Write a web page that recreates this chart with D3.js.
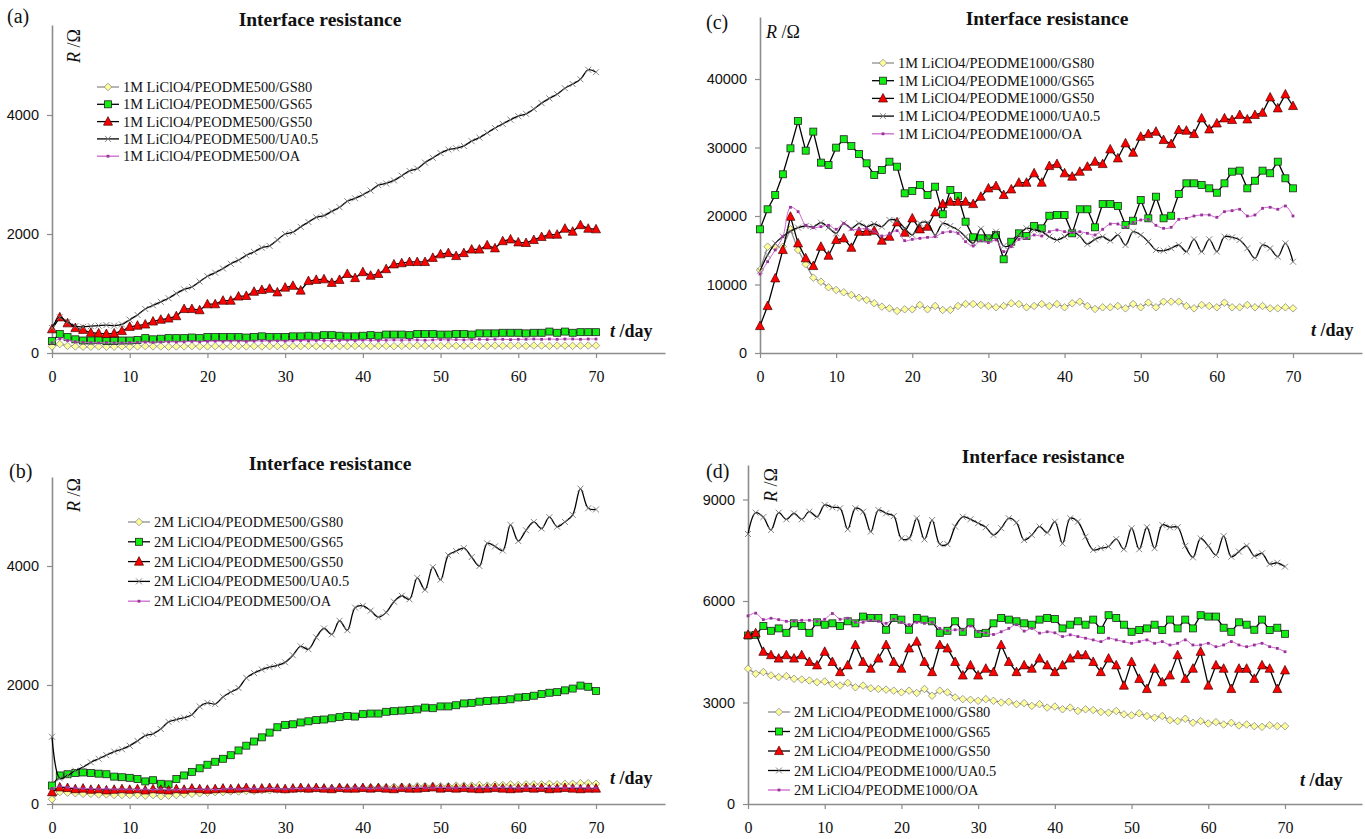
<!DOCTYPE html>
<html>
<head>
<meta charset="utf-8">
<script src="https://cdn.jsdelivr.net/npm/d3@7"></script>
<style>
  body { margin: 0; background: #fff; }
  svg text { font-family: "Liberation Serif", "Times New Roman", serif; }
</style>
</head>
<body>
<svg id="chart" width="1365" height="839"></svg>
<script>
// days 0..70, one reading per day
var days = d3.range(0, 71);
var xTicks = [0, 10, 20, 30, 40, 50, 60, 70];

var namesA = ["1M LiClO4/PEODME500/GS80", "1M LiClO4/PEODME500/GS65", "1M LiClO4/PEODME500/GS50", "1M LiClO4/PEODME500/UA0.5", "1M LiClO4/PEODME500/OA"];
var namesB = ["2M LiClO4/PEODME500/GS80", "2M LiClO4/PEODME500/GS65", "2M LiClO4/PEODME500/GS50", "2M LiClO4/PEODME500/UA0.5", "2M LiClO4/PEODME500/OA"];
var namesC = ["1M LiClO4/PEODME1000/GS80", "1M LiClO4/PEODME1000/GS65", "1M LiClO4/PEODME1000/GS50", "1M LiClO4/PEODME1000/UA0.5", "1M LiClO4/PEODME1000/OA"];
var namesD = ["2M LiClO4/PEODME1000/GS80", "2M LiClO4/PEODME1000/GS65", "2M LiClO4/PEODME1000/GS50", "2M LiClO4/PEODME1000/UA0.5", "2M LiClO4/PEODME1000/OA"];

// (a) 1M / PEODME500
var a_GS80 = [110,150,120,110,105,105,110,105,105,110, 105,110,115,110,110,105,110,110,115,110, 110,115,110,110,115,110,115,110,115,115, 110,115,115,120,115,115,120,115,115,120, 120,115,120,120,115,120,120,125,120,120, 120,125,120,120,125,120,120,125,120,125, 125,120,125,125,120,125,125,120,125,125, 125];
var a_GS65 = [200,320,270,230,210,210,220,200,200,210, 210,220,250,230,240,250,250,250,260,250, 270,270,270,270,270,260,270,280,270,270, 270,280,280,290,280,300,300,290,280,280, 290,300,290,310,310,310,300,320,320,320, 310,310,320,320,310,330,330,330,340,340, 340,330,340,340,360,340,360,340,350,350, 350];
var a_GS50 = [400,600,500,420,390,340,330,320,330,370, 440,460,480,530,560,580,620,740,740,720, 820,820,880,880,950,960,1030,1060,1080,1020, 1100,1130,1050,1210,1230,1240,1180,1230,1330,1260, 1360,1300,1330,1410,1490,1510,1530,1530,1530,1600, 1660,1680,1630,1680,1740,1740,1810,1760,1880,1910, 1860,1850,1900,1950,1990,1990,2090,2040,2150,2090, 2080];
var a_UA = [420,600,520,450,440,450,460,470,460,480, 560,640,740,800,860,920,1000,1070,1110,1200, 1290,1350,1420,1500,1560,1640,1700,1770,1800,1900, 2000,2030,2120,2200,2280,2310,2380,2450,2550,2600, 2660,2730,2820,2850,2900,2980,3060,3100,3200,3280, 3360,3420,3440,3480,3560,3620,3700,3780,3850,3920, 3980,4020,4100,4200,4280,4350,4450,4520,4600,4760, 4720];
var a_OA = [170,240,210,190,180,175,170,175,170,170, 175,180,185,180,185,190,185,190,195,190, 195,200,195,200,200,195,200,205,200,205, 200,205,210,205,210,210,205,210,215,210, 215,215,210,215,220,215,220,220,215,220, 225,220,225,220,225,230,225,230,230,225, 230,230,235,230,235,230,235,235,230,235, 235];

// (b) 2M / PEODME500
var b_GS80 = [80,200,190,180,170,170,160,160,150,150, 150,150,140,150,130,140,150,160,170,180, 190,200,200,210,210,220,220,230,230,240, 240,250,250,250,260,260,260,270,270,270, 270,280,280,280,290,290,290,300,300,300, 300,300,310,310,310,320,310,320,320,330, 320,330,330,330,340,330,340,340,350,350, 340];
var b_GS65 = [310,480,500,520,530,520,510,500,460,450, 440,420,380,400,340,330,420,480,540,600, 660,710,760,820,900,980,1050,1120,1200,1290, 1330,1340,1370,1390,1410,1420,1440,1460,1480,1470, 1510,1520,1520,1550,1560,1570,1580,1590,1620,1610, 1640,1640,1660,1690,1700,1720,1730,1740,1750,1760, 1790,1800,1820,1850,1870,1880,1910,1940,1990,1970, 1900];
var b_GS50 = [200,280,270,250,260,240,250,230,240,250, 240,250,230,250,240,230,250,240,260,250, 240,250,260,250,260,270,250,260,270,260, 250,260,270,260,270,260,250,270,260,260, 270,260,270,260,250,270,260,260,270,280, 260,270,260,270,260,250,260,270,260,250, 260,270,260,270,250,260,270,260,250,260, 260];
var b_UA = [1130,430,480,560,620,700,760,820,880,920, 980,1060,1150,1180,1260,1380,1420,1450,1500,1640, 1700,1680,1800,1880,1950,2120,2200,2260,2300,2330, 2380,2500,2650,2600,2800,2950,2850,3080,2920,3300, 3330,3250,3140,3220,3400,3500,3440,3800,3600,3980, 3770,4180,4250,4300,4150,4000,4380,4330,4260,4690, 4420,4600,4740,4630,4820,4660,4740,4860,5300,4970, 4950];
var b_OA = [260,300,280,270,260,260,250,260,250,250, 250,240,250,240,250,240,240,250,240,250, 250,240,250,260,250,250,260,250,260,260, 250,260,260,270,260,260,270,260,260,270, 270,260,270,270,260,270,270,280,270,270, 280,270,270,280,270,280,280,270,280,280, 270,280,280,270,280,280,270,280,280,270, 270];

// (c) 1M / PEODME1000
var c_GS80 = [12120,15520,15430,15520,18060,15040,12950,10990,10410,9590, 9200,8860,8470,8070,7740,7260,6760,6520,6130,6380, 6380,7010,6380,6860,6280,6280,6860,7150,7150,7010, 6860,6670,6860,7250,7150,6670,6860,7150,6860,7150, 6670,7250,7490,6860,6420,6670,6670,6860,6520,7150, 6670,7350,6670,7490,7490,7490,6860,6520,7010,6860, 6670,7350,6670,6670,7010,6670,6860,6520,6520,6670, 6520];
var c_GS65 = [18060,20980,23070,26090,29880,33870,29540,32320,27790,27450, 29980,31210,30220,29050,27690,25990,26720,27930,27200,23310, 23650,24530,23070,24280,20250,23800,22920,19170,16890,16740, 16740,17230,13680,16250,17470,17080,18540,18200,20040,20150, 20150,17470,20980,20980,18350,21750,21750,21460,18690,19310, 22340,19660,22820,19660,20040,23210,24770,24770,24530,24040, 23400,24770,26470,26620,24040,25150,26620,26240,27930,25500, 24040];
var c_GS50 = [3940,6860,10900,15040,19900,16010,13830,12700,15520,14210, 16500,16740,15370,17710,17710,17860,16400,16980,19080,17570, 19660,18060,18440,20540,21750,22090,22090,22090,21750,22820, 24040,24380,23070,23890,24870,24870,26240,24870,27300,27590, 26240,25750,26470,27200,27930,27590,29730,28420,30610,29240, 31580,31970,32310,31100,30510,32560,32460,31970,34260,32650, 33520,34260,34020,34750,34110,34750,35080,37320,35720,37760, 36060];
var c_UA = [12000,14300,16000,17000,17800,18300,18540,18400,19030,18300, 17470,18930,18200,18930,18440,18830,18440,19420,19320,18200, 17230,18930,19030,17230,18930,18540,17960,16980,16010,18150, 16590,17710,15620,15760,17230,18200,17960,17710,16980,16500, 16980,17710,17080,15910,16590,16980,16400,17230,15760,17710, 17230,16250,15040,14940,15280,15760,14800,16590,14800,16590, 14800,16980,16880,16500,15280,13830,15760,15280,14070,16010, 13330];
var c_OA = [11530,13330,15040,16980,21270,20630,18640,18300,18440,18640, 18060,18930,18060,18060,18200,17710,17080,17380,17860,16400, 16590,16740,16880,16980,17570,17710,17470,16250,15620,16400, 16110,16500,14800,15520,16590,16740,17230,17080,17710,17960, 17710,17570,17710,17470,17230,18060,18830,18830,18350,19030, 19420,19510,18640,18200,18350,19510,19660,20000,20150,20150, 19810,20630,20780,20980,20000,20150,21120,21270,20980,21460, 20000];

// (d) 2M / PEODME1000
var d_GS80 = [4000,3850,3900,3800,3750,3780,3700,3680,3650,3600, 3620,3550,3500,3580,3450,3500,3420,3400,3380,3350, 3300,3350,3280,3400,3200,3350,3300,3150,3100,3080, 3050,3100,3050,3000,3020,2950,2980,2900,2950,2850, 2880,2800,2850,2750,2800,2780,2720,2700,2750,2650, 2620,2680,2600,2550,2600,2480,2450,2520,2400,2450, 2380,2420,2350,2400,2320,2350,2300,2280,2330,2300, 2300];
var d_GS65 = [4980,5000,5260,5120,5190,5060,5340,5260,5060,5370, 5300,5340,5260,5400,5340,5540,5500,5500,5150,5500, 5450,5150,5500,5450,5400,5060,5120,5400,5090,5370, 5030,5060,5340,5500,5450,5400,5340,5300,5450,5500, 5470,5190,5300,5400,5300,5450,5150,5580,5500,5300, 5090,5140,5190,5300,5140,5450,5190,5450,5190,5580, 5540,5540,5210,5090,5370,5300,5150,5450,5140,5210, 5030];
var d_GS50 = [5000,5050,4500,4400,4300,4400,4300,4400,4200,4100, 4500,4200,3900,4100,4700,4200,4000,4300,4700,4200, 4000,4600,4800,4200,3900,4700,4600,4200,3800,4100, 3800,4000,3900,4700,4200,3900,4100,4000,4300,4100, 3900,4100,4300,4400,4400,4200,3900,4300,4100,3500, 4200,3700,3400,4000,3600,3800,4400,3700,4000,4500, 3500,4100,4000,3400,4000,4000,3700,4100,4000,3400, 3950];
var d_UA = [7980,8610,8480,8100,8610,8415,8590,8415,8640,8490, 8840,8770,8740,8120,8740,8640,8050,8690,8590,8510, 7850,7850,8445,7820,8390,7680,7680,8200,8490,8415, 8300,8180,7950,8150,8445,8315,7800,7950,8200,8020, 8345,7700,8445,8345,7900,7510,7560,7610,7830,7530, 8150,7530,8180,7560,8250,8180,8180,7630,7290,7850, 7630,7360,7920,7310,7460,7630,7330,7410,7095,7130, 7015];
var d_OA = [5560,5640,5450,5490,5450,5400,5400,5430,5430,5400, 5460,5630,5460,5490,5370,5370,5430,5400,5340,5460, 5370,5300,5370,5340,5370,5190,5120,5150,5140,5260, 5090,5060,5010,5090,5190,5300,5110,5190,5050,5090, 5060,4950,5000,4950,4900,4850,4800,4900,4850,4800, 4750,4800,4850,4750,4800,4700,4750,4850,4700,4700, 4750,4650,4700,4800,4700,4650,4700,4750,4650,4600, 4500];

// look of the five series, shared by all panels
var styles = [
  { sym: "diamond",  fill: "#ffff99", stroke: "#8a8a8a", line: "#8f8f8f", size: 7.5, curve: d3.curveLinear },
  { sym: "square",   fill: "#11ee11", stroke: "#222",    line: "#000",    size: 7,   curve: d3.curveLinear },
  { sym: "triangle", fill: "#ff0000", stroke: "#400",    line: "#000",    size: 9,   curve: d3.curveLinear },
  { sym: "x",        fill: "none",    stroke: "#777",    line: "#000",    size: 6,   curve: d3.curveCatmullRom },
  { sym: "dot",      fill: "#993399", stroke: "#993399", line: "#cc66cc", size: 2.8, curve: d3.curveCatmullRom }
];

var panels = [
  { tag: "(a)", tagX: 7, tagY: 23, titleX: 320, titleY: 26,
    series: [a_GS80, a_GS65, a_GS50, a_UA, a_OA], names: namesA,
    x0: 52, x70: 596, xEnd: 665, yBase: 353, yTop: 25, yUnit: 2000, yPx: 119, yTicks: [0, 2000, 4000],
    leg: { x: 97, y: 87, dy: 17.3 },
    rLab: { x: 80, y: 63, rot: true }, tLab: { x: 610, y: 337 } },
  { tag: "(b)", tagX: 9, tagY: 478, titleX: 330, titleY: 470,
    series: [b_GS80, b_GS65, b_GS50, b_UA, b_OA], names: namesB,
    x0: 52, x70: 596, xEnd: 665, yBase: 804, yTop: 477, yUnit: 2000, yPx: 119, yTicks: [0, 2000, 4000],
    leg: { x: 128, y: 522, dy: 19.8 },
    rLab: { x: 80, y: 512, rot: true }, tLab: { x: 610, y: 784 } },
  { tag: "(c)", tagX: 706, tagY: 29, titleX: 1047, titleY: 25,
    series: [c_GS80, c_GS65, c_GS50, c_UA, c_OA], names: namesC,
    x0: 760, x70: 1293, xEnd: 1362, yBase: 353, yTop: 17, yUnit: 10000, yPx: 68.5, yTicks: [0, 10000, 20000, 30000, 40000],
    leg: { x: 872, y: 63, dy: 17.7 },
    rLab: { x: 766, y: 38, rot: false }, tLab: { x: 1311, y: 336 } },
  { tag: "(d)", tagX: 706, tagY: 478, titleX: 1043, titleY: 463,
    series: [d_GS80, d_GS65, d_GS50, d_UA, d_OA], names: namesD,
    x0: 748, x70: 1285, xEnd: 1362, yBase: 804, yTop: 465, yUnit: 3000, yPx: 101.5, yTicks: [0, 3000, 6000, 9000],
    leg: { x: 768, y: 712, dy: 19.5 },
    rLab: { x: 777, y: 502, rot: true }, tLab: { x: 1300, y: 786 } }
];

var svg = d3.select("#chart");
var axisColor = "#8c8c8c";

function marker(g, st, cx, cy) {
  var s = st.size, h = s / 2;
  if (st.sym === "diamond") {
    g.append("polygon")
      .attr("points", [[cx, cy - h], [cx + h, cy], [cx, cy + h], [cx - h, cy]].join(" "))
      .attr("fill", st.fill).attr("stroke", st.stroke).attr("stroke-width", 0.8);
  } else if (st.sym === "square" || st.sym === "dot") {
    g.append("rect").attr("x", cx - h).attr("y", cy - h).attr("width", s).attr("height", s)
      .attr("fill", st.fill).attr("stroke", st.stroke).attr("stroke-width", st.sym === "dot" ? 0 : 0.8);
  } else if (st.sym === "triangle") {
    g.append("polygon")
      .attr("points", [[cx, cy - s * 0.55], [cx + h, cy + s * 0.4], [cx - h, cy + s * 0.4]].join(" "))
      .attr("fill", st.fill).attr("stroke", st.stroke).attr("stroke-width", 0.7);
  } else {
    g.append("path")
      .attr("d", "M" + (cx - h) + "," + (cy - h) + "L" + (cx + h) + "," + (cy + h) +
                 "M" + (cx - h) + "," + (cy + h) + "L" + (cx + h) + "," + (cy - h))
      .attr("stroke", st.stroke).attr("stroke-width", 0.9).attr("fill", "none");
  }
}

panels.forEach(function(p) {
  var xMax = 70 * (p.xEnd - p.x0) / (p.x70 - p.x0);
  var yMax = p.yUnit * (p.yBase - p.yTop) / p.yPx;
  var x = d3.scaleLinear().domain([0, xMax]).range([p.x0, p.xEnd]);
  var y = d3.scaleLinear().domain([0, yMax]).range([p.yBase, p.yTop]);
  var g = svg.append("g");

  // axes
  var xa = g.append("g").attr("transform", "translate(0," + p.yBase + ")")
    .call(d3.axisBottom(x).tickValues(xTicks).tickSize(5).tickSizeOuter(0).tickPadding(13).tickFormat(d3.format("d")));
  xa.selectAll("text").style("font-size", "16px").attr("fill", "#111");
  var ya = g.append("g").attr("transform", "translate(" + p.x0 + ",0)")
    .call(d3.axisLeft(y).tickValues(p.yTicks).tickSize(5).tickSizeOuter(0).tickPadding(8).tickFormat(d3.format("d")));
  ya.selectAll("text").style("font-size", "14.5px").style("font-family", "\"Liberation Sans\", Arial, sans-serif").attr("fill", "#111");
  [xa, ya].forEach(function(a) {
    a.select(".domain").attr("stroke", axisColor).attr("stroke-width", 1.6);
    a.selectAll(".tick line").attr("stroke", axisColor).attr("stroke-width", 1.2);
  });

  // series
  p.series.forEach(function(vals, i) {
    var st = styles[i];
    var line = d3.line().curve(st.curve).x(function(d, k) { return x(days[k]); }).y(function(d) { return y(d); });
    g.append("path").datum(vals).attr("d", line)
      .attr("fill", "none").attr("stroke", st.line).attr("stroke-width", i === 4 ? 1 : 1.3);
    var mg = g.append("g");
    vals.forEach(function(v, k) { marker(mg, st, x(days[k]), y(v)); });
  });

  // legend
  p.names.forEach(function(name, i) {
    var st = styles[i];
    var ly = p.leg.y + i * p.leg.dy;
    g.append("line").attr("x1", p.leg.x).attr("x2", p.leg.x + 22).attr("y1", ly).attr("y2", ly)
      .attr("stroke", st.line).attr("stroke-width", 1.3);
    marker(g, st, p.leg.x + 11, ly);
    g.append("text").attr("x", p.leg.x + 26).attr("y", ly).attr("dy", "0.35em")
      .style("font-size", "14.4px").attr("fill", "#111").text(name);
  });

  // titles and labels
  g.append("text").attr("x", p.titleX).attr("y", p.titleY).attr("text-anchor", "middle")
    .style("font-size", "19.5px").style("font-weight", "bold").attr("fill", "#111").text("Interface resistance");
  g.append("text").attr("x", p.tagX).attr("y", p.tagY).style("font-size", "20px").attr("fill", "#111").text(p.tag);

  var r = g.append("text").attr("x", p.rLab.x).attr("y", p.rLab.y).style("font-size", "18px").attr("fill", "#111");
  if (p.rLab.rot) r.attr("transform", "rotate(-90," + p.rLab.x + "," + p.rLab.y + ")");
  r.append("tspan").style("font-style", "italic").text("R");
  r.append("tspan").text(" /Ω");

  var t = g.append("text").attr("x", p.tLab.x).attr("y", p.tLab.y).style("font-size", "18px")
    .style("font-weight", "bold").attr("fill", "#111");
  t.append("tspan").style("font-style", "italic").text("t");
  t.append("tspan").text(" /day");
});
</script>
</body>
</html>
